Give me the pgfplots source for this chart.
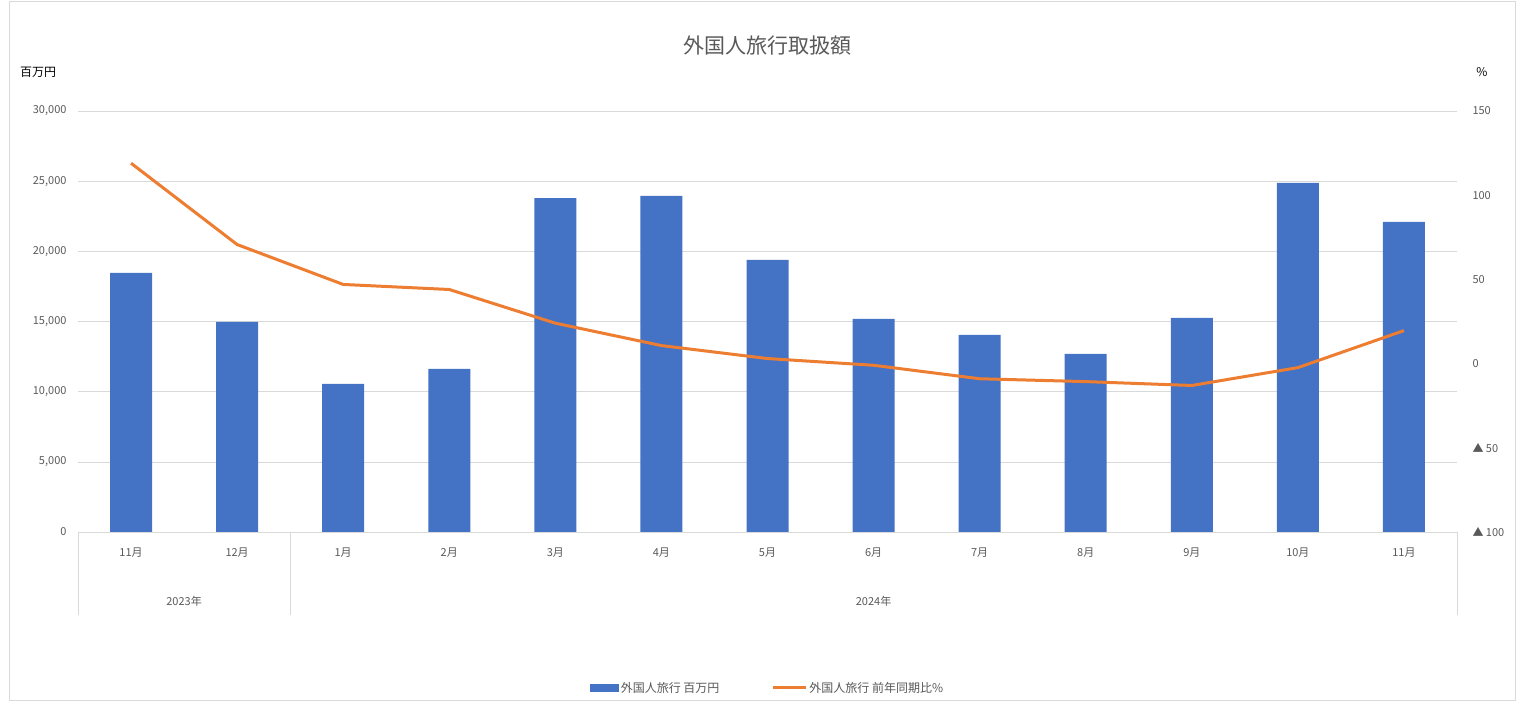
\documentclass[border=0pt]{standalone}
\usepackage{pgfplots}
\pgfplotsset{compat=1.18}
\usepackage{fontspec}
\setmainfont{Noto Sans CJK JP}
\definecolor{cblue}{HTML}{4472C4}
\definecolor{corange}{HTML}{ED7D31}
\definecolor{cgrid}{HTML}{D9D9D9}
\definecolor{ctext}{HTML}{595959}
\begin{document}
\begin{tikzpicture}[x=1pt,y=1pt]
\useasboundingbox (0,0) rectangle (1516,701);
\draw[cgrid] (9,1) rectangle (1515,700);
\node[text=ctext,font=\fontsize{21}{25}\selectfont] at (767,655) {外国人旅行取扱額};
\node[text=black,font=\fontsize{12}{14}\selectfont] at (38,629) {百万円};
\node[text=black,font=\fontsize{12}{14}\selectfont] at (1482,629) {\%};
\begin{axis}[at={(78pt,169pt)},anchor=south west,scale only axis,width=1379pt,height=421pt,
  xmin=-0.5,xmax=12.5,ymin=0,ymax=30000,ytick={0,5000,...,30000},
  xtick={0,...,12},xticklabels={11月,12月,1月,2月,3月,4月,5月,6月,7月,8月,9月,10月,11月},
  axis lines=left,y axis line style={draw=none},x axis line style={cgrid,-},
  major tick length=0pt,ymajorgrids,grid style={cgrid},
  /pgf/number format/assume math mode=true,
  ticklabel style={font=\fontsize{11}{13}\selectfont,text=ctext},
  xticklabel style={yshift=-12pt},
  yticklabel style={xshift=-8pt},
  scaled y ticks=false,clip=false,
  legend style={at={(0.5,-0.37)},anchor=center,draw=none,legend columns=2,font=\fontsize{12}{14}\selectfont,text=ctext,/tikz/every even column/.append style={column sep=50pt}}]
\addplot[ybar,bar width=42pt,fill=cblue,draw=none,legend image code/.code={\fill[cblue] (0,-4pt) rectangle (29pt,4pt);}] coordinates {(0,18460)(1,14970)(2,10550)(3,11620)(4,23800)(5,23950)(6,19390)(7,15180)(8,14040)(9,12690)(10,15250)(11,24870)(12,22100)};
\addlegendentry{外国人旅行 百万円}
\addlegendimage{legend image code/.code={\draw[corange,line width=3pt] (0,0) -- (33pt,0);}}
\addlegendentry{外国人旅行 前年同期比\%}
\draw[cgrid] (axis cs:-0.5,0) -- ([yshift=-83pt]axis cs:-0.5,0);
\draw[cgrid] (axis cs:1.5,0) -- ([yshift=-83pt]axis cs:1.5,0);
\draw[cgrid] (axis cs:12.5,0) -- ([yshift=-83pt]axis cs:12.5,0);
\node[text=ctext,font=\fontsize{11}{13}\selectfont] at ([yshift=-69pt]axis cs:0.5,0) {2023年};
\node[text=ctext,font=\fontsize{11}{13}\selectfont] at ([yshift=-69pt]axis cs:7,0) {2024年};
\end{axis}
\begin{axis}[at={(78pt,169pt)},anchor=south west,scale only axis,width=1379pt,height=421pt,
  xmin=-0.5,xmax=12.5,ymin=-100,ymax=150,ytick={-100,-50,0,50,100,150},
  yticklabels={▲ 100,▲ 50,0,50,100,150},
  axis x line=none,axis y line*=right,y axis line style={draw=none},
  major tick length=0pt,
  yticklabel style={font=\fontsize{11}{13}\selectfont,text=ctext,anchor=west,xshift=12pt}]
\addplot[corange,line width=3pt,line join=round] coordinates {(0,119)(1,70.7)(2,47)(3,44)(4,24)(5,10.7)(6,3)(7,-1)(8,-9)(9,-10.7)(10,-13)(11,-2.4)(12,19.6)};
\end{axis}
\end{tikzpicture}
\end{document}
